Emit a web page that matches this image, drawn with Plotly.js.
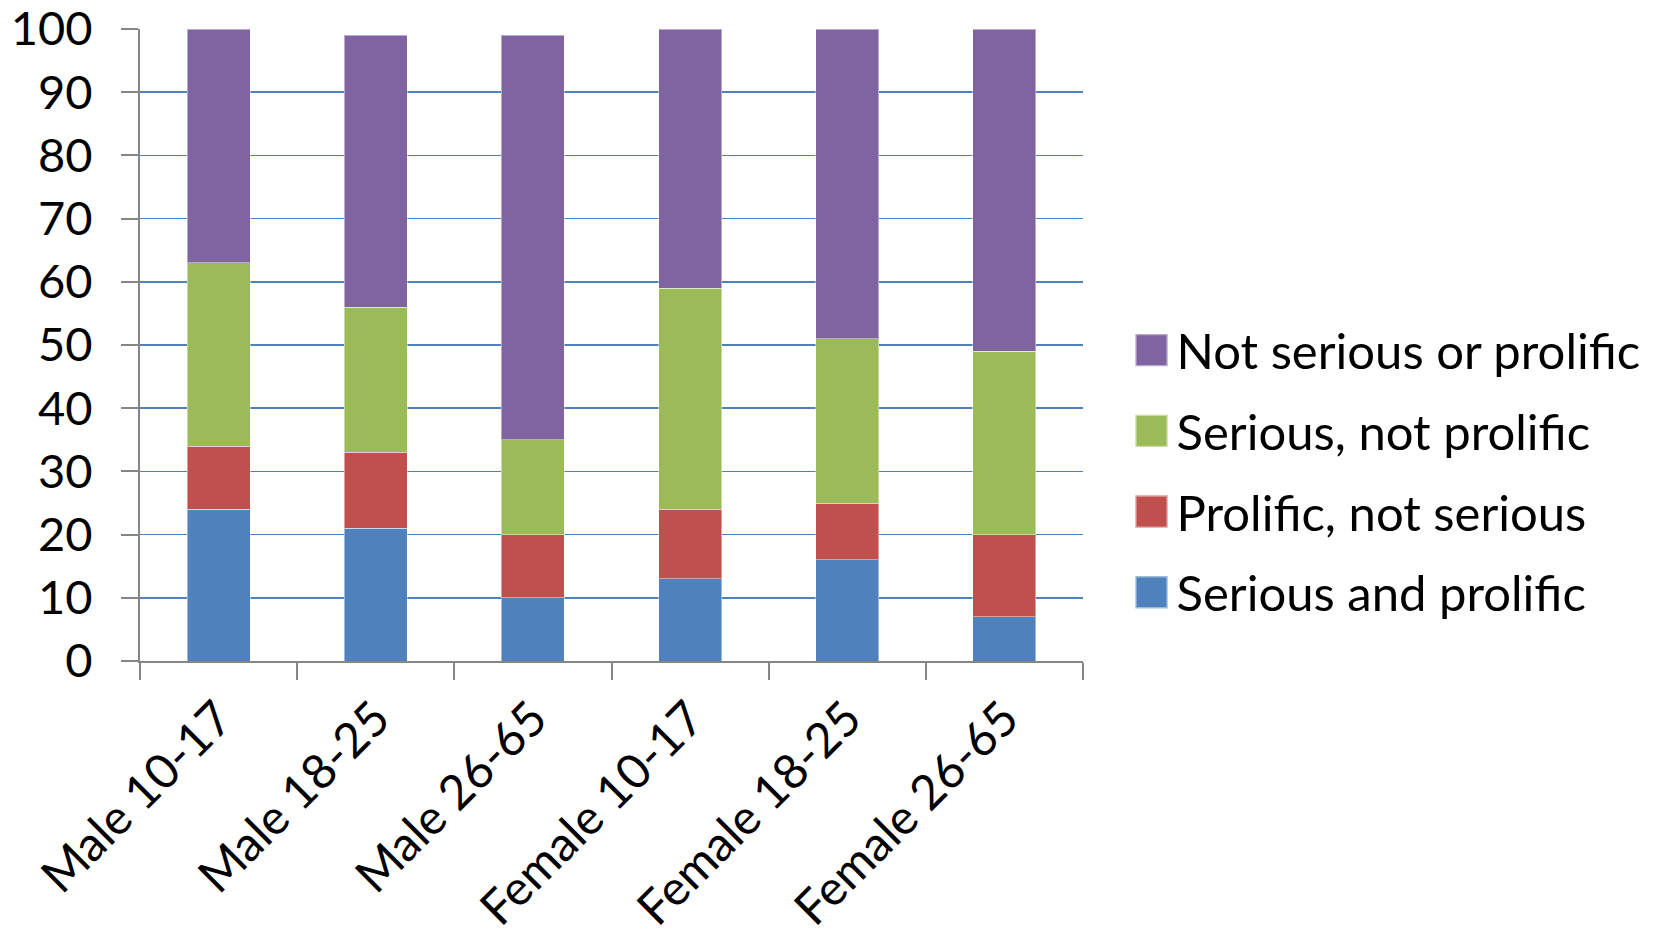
<!DOCTYPE html>
<html>
<head>
<meta charset="utf-8">
<script src="https://cdn.plot.ly/plotly-3.0.1.min.js"></script>
<style>
html,body{margin:0;padding:0;background:#fff;}
#chart{width:1664px;height:937px;}
</style>
</head>
<body>
<div id="chart"></div>
<script>
const categories = ['Male 10-17','Male 18-25','Male 26-65','Female 10-17','Female 18-25','Female 26-65'];
const seriousAndProlific = [24,21,10,13,16,7];
const prolificNotSerious = [10,12,10,11,9,13];
const seriousNotProlific = [29,23,15,35,26,29];
const notSeriousOrProlific = [37,43,64,41,49,51];
const yTickValues = [0,10,20,30,40,50,60,70,80,90,100];

const FONT = 'Lato, "Open Sans", sans-serif';
const FS = 49;

function mk(name, values, color, group, rank){
  return {
    type:'bar', name:name, x:categories, y:values,
    legendgroup:group, legendrank:rank,
    marker:{color:color, line:{color:'rgba(255,255,255,0.45)', width:1}},
    width:0.4, hoverinfo:'skip'
  };
}

const data = [
  mk('Serious and prolific', seriousAndProlific, '#4F81BD','a',4),
  mk('Prolific, not serious', prolificNotSerious, '#C0504D','b',3),
  mk('Serious, not prolific', seriousNotProlific, '#9BBB59','c',2),
  mk('Not serious or prolific', notSeriousOrProlific, '#8064A2','d',1)
];

const layout = {
  width:1664, height:937,
  paper_bgcolor:'#fff', plot_bgcolor:'#fff',
  margin:{l:140, r:581, t:29, b:276, pad:0},
  barmode:'stack',
  font:{family:FONT, size:FS, color:'#000'},
  xaxis:{
    type:'category', range:[-0.5,5.5], automargin:false,
    showline:true, linecolor:'#868686', linewidth:2,
    ticks:'outside', ticklen:17, tickwidth:2, tickcolor:'#868686',
    tickson:'boundaries', tickangle:-45, ticklabelstandoff:8,
    ticklabeloverflow:'allow',
    showgrid:false, zeroline:false,
    tickfont:{family:FONT, size:48, color:'#000'}
  },
  yaxis:{
    range:[0,100], tickvals:yTickValues, automargin:false,
    showline:true, linecolor:'#868686', linewidth:2,
    ticks:'outside', ticklen:17, tickwidth:2, tickcolor:'#868686',
    ticklabelstandoff:19, ticklabeloverflow:'allow',
    showgrid:true, gridcolor:'#4F81BD', gridwidth:1.5, zeroline:false,
    tickfont:{family:FONT, size:47, color:'#000'}
  },
  showlegend:true,
  legend:{
    xref:'container', yref:'container',
    x:0.677, y:0.497, xanchor:'left', yanchor:'middle',
    traceorder:'grouped', tracegroupgap:14,
    itemwidth:40, bgcolor:'rgba(0,0,0,0)',
    font:{family:FONT, size:FS, color:'#000'}
  }
};

Plotly.newPlot('chart', data, layout, {staticPlot:true, displayModeBar:false}).then(function(gd){
  gd.querySelectorAll('.legend .legendpoints path').forEach(function(p){
    const t = p.getAttribute('transform') || '';
    p.setAttribute('transform', t + ' scale(2.7)');
  });
});
</script>
</body>
</html>
